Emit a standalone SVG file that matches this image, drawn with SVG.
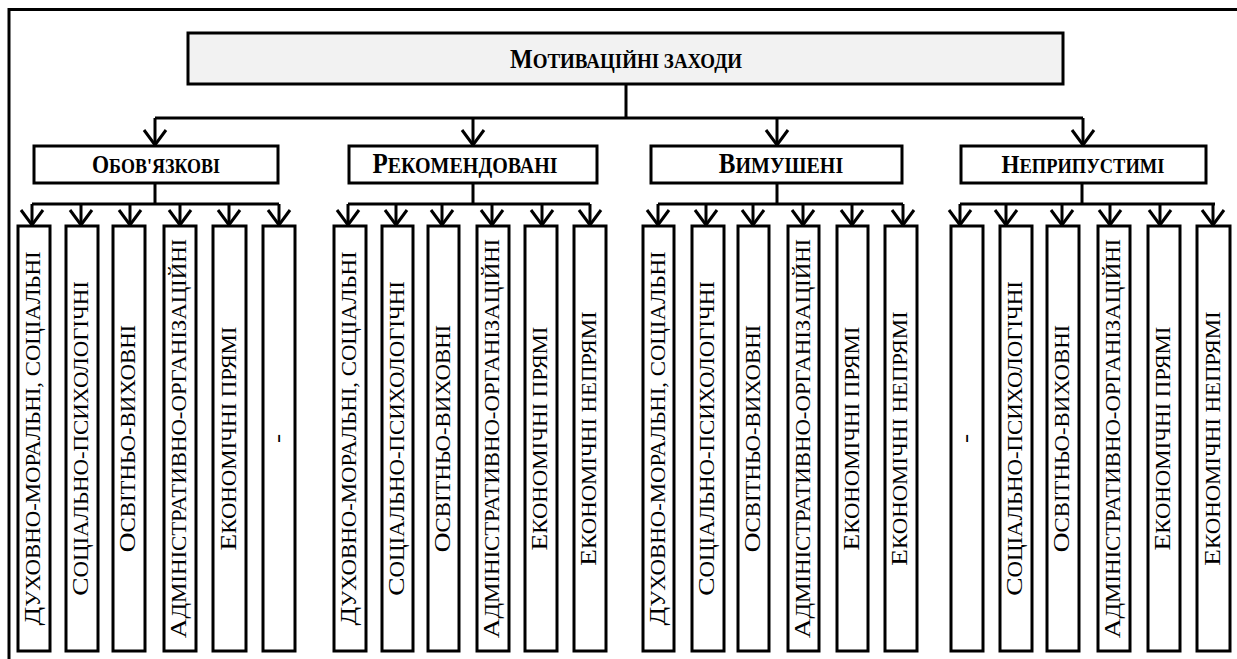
<svg xmlns="http://www.w3.org/2000/svg" width="1237" height="659" viewBox="0 0 1237 659">
  <style>
    .frame{fill:none;stroke:#000;stroke-width:3}
    .box{fill:#fff;stroke:#000;stroke-width:3}
    .root{fill:#f2f2f2;stroke:#000;stroke-width:3}
    .wire{fill:none;stroke:#000;stroke-width:3}
    .arr{marker-end:url(#ah)}
    .arrow{fill:none;stroke:#000;stroke-width:3}
    .hd{font-family:'Liberation Serif','DejaVu Serif',serif;font-weight:bold;fill:#000;text-anchor:middle}
    .vt{font-family:'Liberation Serif','DejaVu Serif',serif;fill:#000;text-anchor:middle}
    .cap{font-size:24px}
    .sc{font-size:20px}
  </style>
  <defs>
    <marker id="ah" markerUnits="userSpaceOnUse" markerWidth="30" markerHeight="30" viewBox="-20 -15 30 30" refX="0" refY="0" orient="auto" overflow="visible">
      <path class="arrow" d="M-15,-11 L0,0 L-15,11"/>
    </marker>
  </defs>
  <rect width="1237" height="659" fill="#fff"/>

  <!-- page frame (top and left edges) -->
  <path class="frame" d="M9,659 V9.5 H1237"/>

  <!-- connectors -->
  <g id="connectors" class="wire">
    <path d="M626,84 V118 M155,118 H1083"/>
    <path class="arr" d="M155,118 V145"/>
    <path class="arr" d="M473,118 V145"/>
    <path class="arr" d="M777,118 V145"/>
    <path class="arr" d="M1083,118 V145"/>
    <!-- category stems and rails -->
    <path d="M155,183 V204 M32,204 H279"/>
    <path d="M473,183 V204 M348,204 H590"/>
    <path d="M777,183 V204 M658,204 H903"/>
    <path d="M1082,183 V204 M960,204 H1215"/>
    <path class="arr" d="M32,204 V225"/>
    <path class="arr" d="M81,204 V225"/>
    <path class="arr" d="M130,204 V225"/>
    <path class="arr" d="M180,204 V225"/>
    <path class="arr" d="M229,204 V225"/>
    <path class="arr" d="M279,204 V225"/>
    <path class="arr" d="M348,204 V225"/>
    <path class="arr" d="M396,204 V225"/>
    <path class="arr" d="M442,204 V225"/>
    <path class="arr" d="M492,204 V225"/>
    <path class="arr" d="M542,204 V225"/>
    <path class="arr" d="M590,204 V225"/>
    <path class="arr" d="M658,204 V225"/>
    <path class="arr" d="M706,204 V225"/>
    <path class="arr" d="M753,204 V225"/>
    <path class="arr" d="M803,204 V225"/>
    <path class="arr" d="M852,204 V225"/>
    <path class="arr" d="M903,204 V225"/>
    <path class="arr" d="M960,204 V225"/>
    <path class="arr" d="M1006,204 V225"/>
    <path class="arr" d="M1062,204 V225"/>
    <path class="arr" d="M1110,204 V225"/>
    <path class="arr" d="M1160,204 V225"/>
    <path class="arr" d="M1213,204 V225"/>
  </g>

  <!-- root -->
  <g id="root">
    <rect class="root" x="188" y="33" width="875" height="51"/>
    <text class="hd" transform="translate(626,68) scale(1,1.14)"><tspan style="font-size:24px">М</tspan><tspan style="font-size:19px">ОТИВАЦІЙНІ ЗАХОДИ</tspan></text>
  </g>

  <!-- categories -->
  <g id="cat-obovyazkovi">
    <rect class="box" x="34" y="146" width="244" height="37"/>
    <text class="hd" transform="translate(156,173) scale(1,1.14)"><tspan style="font-size:22px">О</tspan><tspan style="font-size:18px">БОВ'ЯЗКОВІ</tspan></text>
  </g>
  <g id="cat-rekomendovani">
    <rect class="box" x="349" y="146" width="248" height="37"/>
    <text class="hd" transform="translate(465,173) scale(1,1.14)"><tspan style="font-size:25px">Р</tspan><tspan style="font-size:20px">ЕКОМЕНДОВАНІ</tspan></text>
  </g>
  <g id="cat-vymusheni">
    <rect class="box" x="651" y="146" width="251" height="37"/>
    <text class="hd" transform="translate(781,173) scale(1,1.14)"><tspan style="font-size:25px">В</tspan><tspan style="font-size:20px">ИМУШЕНІ</tspan></text>
  </g>
  <g id="cat-nepryputstymi">
    <rect class="box" x="961" y="146" width="245" height="37"/>
    <text class="hd" transform="translate(1083,173) scale(1,1.14)"><tspan style="font-size:23px">Н</tspan><tspan style="font-size:18.5px">ЕПРИПУСТИМІ</tspan></text>
  </g>

  <!-- group 1: Обов'язкові -->
  <g id="g1-dukhovno">
    <rect class="box" x="18" y="226" width="32" height="425"/>
    <text class="vt" transform="translate(40,438.5) scale(1,1.14) rotate(-90)"><tspan class="cap">Д</tspan><tspan class="sc">УХОВНО-МОРАЛЬНІ, СОЦІАЛЬНІ</tspan></text>
  </g>
  <g id="g1-sotsialno">
    <rect class="box" x="66" y="226" width="32" height="425"/>
    <text class="vt" transform="translate(88,438.5) scale(1,1.14) rotate(-90)"><tspan class="cap">С</tspan><tspan class="sc">ОЦІАЛЬНО-ПСИХОЛОГІЧНІ</tspan></text>
  </g>
  <g id="g1-osvitno">
    <rect class="box" x="113" y="226" width="32" height="425"/>
    <text class="vt" transform="translate(135,438.5) scale(1,1.14) rotate(-90)"><tspan class="cap">О</tspan><tspan class="sc">СВІТНЬО-ВИХОВНІ</tspan></text>
  </g>
  <g id="g1-admin">
    <rect class="box" x="164" y="226" width="32" height="425"/>
    <text class="vt" transform="translate(186,438.5) scale(1,1.14) rotate(-90)"><tspan class="cap">А</tspan><tspan class="sc">ДМІНІСТРАТИВНО-ОРГАНІЗАЦІЙНІ</tspan></text>
  </g>
  <g id="g1-ekon-pryami">
    <rect class="box" x="213" y="226" width="33" height="425"/>
    <text class="vt" transform="translate(235.5,438.5) scale(1,1.14) rotate(-90)"><tspan class="cap">Е</tspan><tspan class="sc">КОНОМІЧНІ ПРЯМІ</tspan></text>
  </g>
  <g id="g1-none">
    <rect class="box" x="263" y="226" width="32" height="425"/>
    <text class="vt" transform="translate(285,438.5) scale(1,1.14) rotate(-90)"><tspan class="cap">-</tspan></text>
  </g>

  <!-- group 2: Рекомендовані -->
  <g id="g2-dukhovno">
    <rect class="box" x="334" y="226" width="32" height="425"/>
    <text class="vt" transform="translate(356,438.5) scale(1,1.14) rotate(-90)"><tspan class="cap">Д</tspan><tspan class="sc">УХОВНО-МОРАЛЬНІ, СОЦІАЛЬНІ</tspan></text>
  </g>
  <g id="g2-sotsialno">
    <rect class="box" x="382" y="226" width="31" height="425"/>
    <text class="vt" transform="translate(403.5,438.5) scale(1,1.14) rotate(-90)"><tspan class="cap">С</tspan><tspan class="sc">ОЦІАЛЬНО-ПСИХОЛОГІЧНІ</tspan></text>
  </g>
  <g id="g2-osvitno">
    <rect class="box" x="428" y="226" width="31" height="425"/>
    <text class="vt" transform="translate(449.5,438.5) scale(1,1.14) rotate(-90)"><tspan class="cap">О</tspan><tspan class="sc">СВІТНЬО-ВИХОВНІ</tspan></text>
  </g>
  <g id="g2-admin">
    <rect class="box" x="477" y="226" width="32" height="425"/>
    <text class="vt" transform="translate(499,438.5) scale(1,1.14) rotate(-90)"><tspan class="cap">А</tspan><tspan class="sc">ДМІНІСТРАТИВНО-ОРГАНІЗАЦІЙНІ</tspan></text>
  </g>
  <g id="g2-ekon-pryami">
    <rect class="box" x="525" y="226" width="32" height="425"/>
    <text class="vt" transform="translate(547,438.5) scale(1,1.14) rotate(-90)"><tspan class="cap">Е</tspan><tspan class="sc">КОНОМІЧНІ ПРЯМІ</tspan></text>
  </g>
  <g id="g2-ekon-nepryami">
    <rect class="box" x="574" y="226" width="32" height="425"/>
    <text class="vt" transform="translate(596,438.5) scale(1,1.14) rotate(-90)"><tspan class="cap">Е</tspan><tspan class="sc">КОНОМІЧНІ НЕПРЯМІ</tspan></text>
  </g>

  <!-- group 3: Вимушені -->
  <g id="g3-dukhovno">
    <rect class="box" x="643" y="226" width="31" height="425"/>
    <text class="vt" transform="translate(664.5,438.5) scale(1,1.14) rotate(-90)"><tspan class="cap">Д</tspan><tspan class="sc">УХОВНО-МОРАЛЬНІ, СОЦІАЛЬНІ</tspan></text>
  </g>
  <g id="g3-sotsialno">
    <rect class="box" x="692" y="226" width="32" height="425"/>
    <text class="vt" transform="translate(714,438.5) scale(1,1.14) rotate(-90)"><tspan class="cap">С</tspan><tspan class="sc">ОЦІАЛЬНО-ПСИХОЛОГІЧНІ</tspan></text>
  </g>
  <g id="g3-osvitno">
    <rect class="box" x="738" y="226" width="31" height="425"/>
    <text class="vt" transform="translate(759.5,438.5) scale(1,1.14) rotate(-90)"><tspan class="cap">О</tspan><tspan class="sc">СВІТНЬО-ВИХОВНІ</tspan></text>
  </g>
  <g id="g3-admin">
    <rect class="box" x="788" y="226" width="31" height="425"/>
    <text class="vt" transform="translate(809.5,438.5) scale(1,1.14) rotate(-90)"><tspan class="cap">А</tspan><tspan class="sc">ДМІНІСТРАТИВНО-ОРГАНІЗАЦІЙНІ</tspan></text>
  </g>
  <g id="g3-ekon-pryami">
    <rect class="box" x="837" y="226" width="31" height="425"/>
    <text class="vt" transform="translate(858.5,438.5) scale(1,1.14) rotate(-90)"><tspan class="cap">Е</tspan><tspan class="sc">КОНОМІЧНІ ПРЯМІ</tspan></text>
  </g>
  <g id="g3-ekon-nepryami">
    <rect class="box" x="885" y="226" width="32" height="425"/>
    <text class="vt" transform="translate(907,438.5) scale(1,1.14) rotate(-90)"><tspan class="cap">Е</tspan><tspan class="sc">КОНОМІЧНІ НЕПРЯМІ</tspan></text>
  </g>

  <!-- group 4: Неприпустимі -->
  <g id="g4-none">
    <rect class="box" x="951" y="226" width="32" height="425"/>
    <text class="vt" transform="translate(973,438.5) scale(1,1.14) rotate(-90)"><tspan class="cap">-</tspan></text>
  </g>
  <g id="g4-sotsialno">
    <rect class="box" x="1000" y="226" width="32" height="425"/>
    <text class="vt" transform="translate(1022,438.5) scale(1,1.14) rotate(-90)"><tspan class="cap">С</tspan><tspan class="sc">ОЦІАЛЬНО-ПСИХОЛОГІЧНІ</tspan></text>
  </g>
  <g id="g4-osvitno">
    <rect class="box" x="1047" y="226" width="32" height="425"/>
    <text class="vt" transform="translate(1069,438.5) scale(1,1.14) rotate(-90)"><tspan class="cap">О</tspan><tspan class="sc">СВІТНЬО-ВИХОВНІ</tspan></text>
  </g>
  <g id="g4-admin">
    <rect class="box" x="1098" y="226" width="32" height="425"/>
    <text class="vt" transform="translate(1120,438.5) scale(1,1.14) rotate(-90)"><tspan class="cap">А</tspan><tspan class="sc">ДМІНІСТРАТИВНО-ОРГАНІЗАЦІЙНІ</tspan></text>
  </g>
  <g id="g4-ekon-pryami">
    <rect class="box" x="1148" y="226" width="32" height="425"/>
    <text class="vt" transform="translate(1170,438.5) scale(1,1.14) rotate(-90)"><tspan class="cap">Е</tspan><tspan class="sc">КОНОМІЧНІ ПРЯМІ</tspan></text>
  </g>
  <g id="g4-ekon-nepryami">
    <rect class="box" x="1197" y="226" width="33" height="425"/>
    <text class="vt" transform="translate(1219.5,438.5) scale(1,1.14) rotate(-90)"><tspan class="cap">Е</tspan><tspan class="sc">КОНОМІЧНІ НЕПРЯМІ</tspan></text>
  </g>
</svg>
